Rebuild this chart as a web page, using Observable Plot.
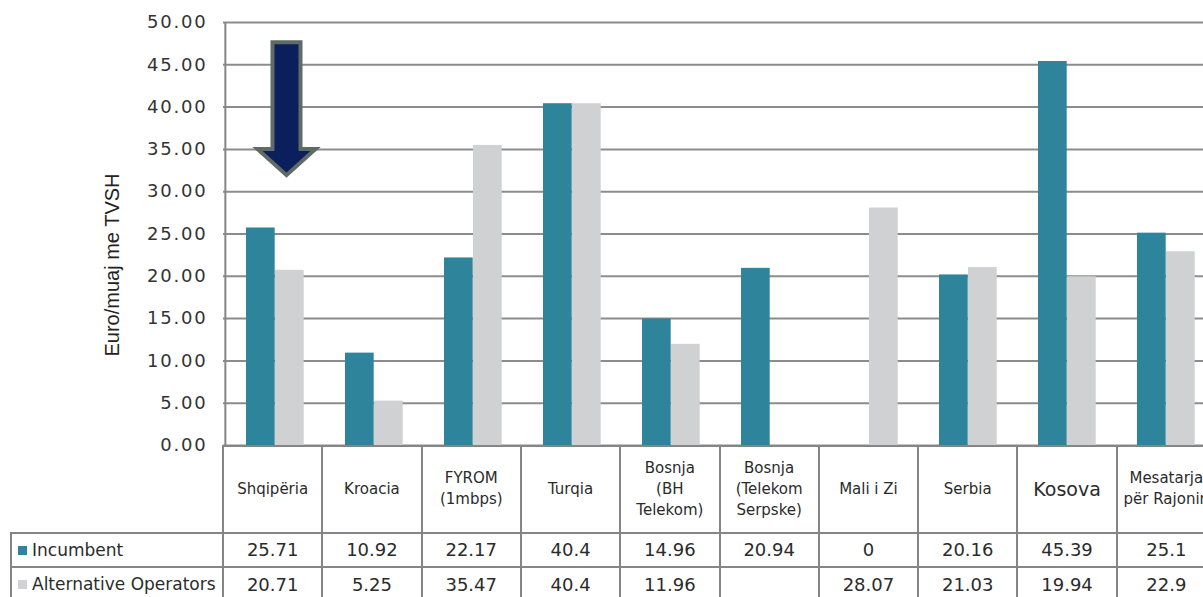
<!DOCTYPE html>
<html><head><meta charset="utf-8">
<script src="https://cdn.jsdelivr.net/npm/d3@7"></script>
<script src="https://cdn.jsdelivr.net/npm/@observablehq/plot@0.6"></script>
<style>
body{margin:0;background:#fff;overflow:hidden}
#wrap{position:relative;width:1203px;height:597px;overflow:hidden;font-family:"DejaVu Sans",sans-serif;color:#2b2b2b;background:#fff}
#wrap svg{position:absolute;left:0;top:0}
.cell{position:absolute;box-sizing:border-box;display:flex;align-items:center;justify-content:center;text-align:center;white-space:pre;}
.ln{position:absolute;background:#858585}
svg [aria-label="y-axis tick label"] text{letter-spacing:1.8px}
</style></head><body><div id="wrap"></div>
<script>
// ---- data ----
const categories = ["Shqipëria","Kroacia","FYROM\n(1mbps)","Turqia","Bosnja\n(BH\nTelekom)","Bosnja\n(Telekom\nSerpske)","Mali i Zi","Serbia","Kosova","Mesatarja\npër Rajonin"];
const incumbent = [25.71,10.92,22.17,40.4,14.96,20.94,0,20.16,45.39,25.1];
const alternative = [20.71,5.25,35.47,40.4,11.96,null,28.07,21.03,19.94,22.9];
const seriesNames = ["Incumbent","Alternative Operators"];
const yTicks = [0,5,10,15,20,25,30,35,40,45,50];
const yTitle = "Euro/muaj me TVSH";
// arrow annotation (value units): top, head base, tip
const arrowValues = [47.6, 35.0, 31.9];

const colors = ["#2e849a","#d0d1d3"];
const X0 = 223, STEP = 99.3, X1 = X0 + STEP*categories.length;
const rows = categories.flatMap((c,i)=>[
  {cat:c, series:seriesNames[0], value:incumbent[i]},
  {cat:c, series:seriesNames[1], value:alternative[i]}
]);

const plot = Plot.plot({
  width:1203, height:447, marginTop:22, marginBottom:2, marginLeft:223, marginRight:0,
  style:{fontFamily:"DejaVu Sans", background:"transparent", color:"#333", overflow:"visible"},
  x:{domain:categories, range:[X0,X1], padding:0, axis:null},
  y:{domain:[0,50], axis:null},
  color:{domain:seriesNames, range:colors},
  marks:[
    Plot.ruleY(yTicks,{stroke:"#8c8c8c", strokeWidth:2}),
    Plot.axisY({ticks:yTicks, tickFormat:d=>d.toFixed(2), tickSize:0, tickPadding:16, fontSize:18, label:null}),
    Plot.text([yTitle],{text:d=>d, frameAnchor:"left", textAnchor:"middle", rotate:-90, dx:-111, dy:31, fontSize:20, fontFamily:"Liberation Sans", fill:"#222"}),
    Plot.barY(rows.filter(d=>d.series===seriesNames[0] && d.value!=null),{x:"cat", y:"value", fill:"series", insetLeft:21, insetRight:STEP-50}),
    Plot.barY(rows.filter(d=>d.series===seriesNames[1] && d.value!=null),{x:"cat", y:"value", fill:"series", insetLeft:50, insetRight:STEP-79}),
    Plot.ruleX([categories[0]],{x:d=>d, dx:-STEP/2, stroke:"#858585", strokeWidth:2})
  ]
});
const wrap = document.getElementById("wrap");
wrap.appendChild(plot);

// arrow annotation
const xs = plot.scale("x"), ys = plot.scale("y");
const cx = xs.apply(categories[0]) + xs.bandwidth/2 + 12;
const [yt, yb, ytip] = arrowValues.map(v=>ys.apply(v));
const sw = 14, hw = 29;
d3.select(plot).append("path")
  .attr("d",`M${cx-sw},${yt}L${cx+sw},${yt}L${cx+sw},${yb}L${cx+hw},${yb}L${cx},${ytip}L${cx-hw},${yb}L${cx-sw},${yb}Z`)
  .attr("fill","#0b1f5c").attr("stroke","#5f6b66").attr("stroke-width",4).attr("stroke-linejoin","miter");

// data table below the chart
const W = d3.select(wrap);
const TOP = 445, H1 = 533, H2 = 567, BOT = 602, LEG = 10;
function cell(x,y,w,h,text,size,align){
  return W.append("div").attr("class","cell")
    .style("left",x+"px").style("top",y+"px").style("width",w+"px").style("height",h+"px")
    .style("font-size",size+"px").style("line-height", size<16?"21px":"1.2")
    .style("justify-content", align||"center").text(text);
}
categories.forEach((c,i)=>{
  const x = X0 + i*STEP;
  cell(x, TOP, STEP, H1-TOP, c, c==="Kosova"?19:15);
  cell(x, H1, STEP, H2-H1, incumbent[i]==null?"":String(incumbent[i]), 18);
  cell(x, H2, STEP, BOT-H2, alternative[i]==null?"":String(alternative[i]), 18);
});
seriesNames.forEach((s,k)=>{
  const y = k===0?H1:H2, h = k===0?H2-H1:BOT-H2;
  const d = cell(LEG+8, y, X0-LEG-8, h, "", 17, "flex-start");
  d.append("span").style("display","inline-block").style("width","9px").style("height","9px")
   .style("background",colors[k]).style("margin-right","5px");
  d.append("span").text(s);
});
function hline(x1,x2,y){W.append("div").attr("class","ln").style("left",x1+"px").style("top",(y-1)+"px").style("width",(x2-x1)+"px").style("height","2px");}
function vline(x,y1,y2){W.append("div").attr("class","ln").style("left",(x-1)+"px").style("top",y1+"px").style("width","2px").style("height",(y2-y1)+"px");}
hline(X0-1, 1203, TOP+1);
hline(LEG, 1203, H1);
hline(LEG, 1203, H2);
vline(LEG+1, H1, BOT);
for(let i=0;i<=categories.length;i++) vline(X0+i*STEP, TOP, BOT);
</script></body></html>
